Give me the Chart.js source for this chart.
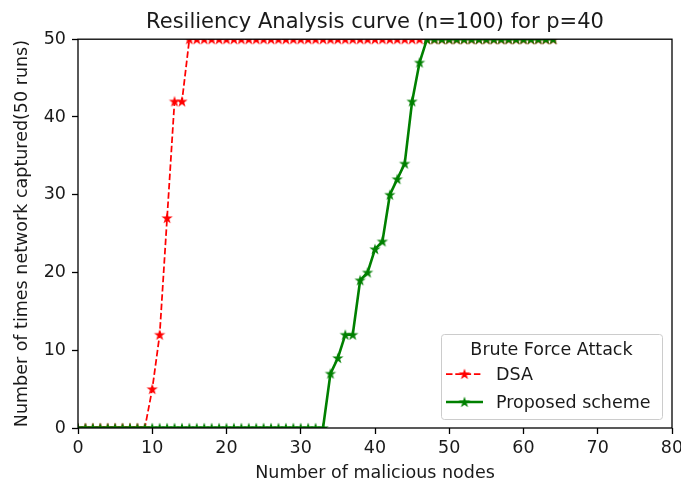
<!DOCTYPE html>
<html>
<head>
<meta charset="utf-8">
<script src="https://cdn.jsdelivr.net/npm/chart.js@4.4.1/dist/chart.umd.min.js"></script>
<style>
  html, body { margin: 0; padding: 0; background: #fff; }
  #wrap { width: 681px; height: 486px; }
</style>
</head>
<body>
<div id="wrap"><canvas id="resChart" width="681" height="486"></canvas></div>
<script>
// --- data ---
const maliciousNodes = Array.from({ length: 65 }, (_, i) => i); // 0 .. 64
const dsaCaptured = [
  0, 0, 0, 0, 0, 0, 0, 0, 0, 0,
  5, 12, 27, 42, 42, 50, 50, 50, 50, 50,
  50, 50, 50, 50, 50, 50, 50, 50, 50, 50,
  50, 50, 50, 50, 50, 50, 50, 50, 50, 50,
  50, 50, 50, 50, 50, 50, 50, 50, 50, 50,
  50, 50, 50, 50, 50, 50, 50, 50, 50, 50,
  50, 50, 50, 50, 50
];
const proposedCaptured = [
  0, 0, 0, 0, 0, 0, 0, 0, 0, 0,
  0, 0, 0, 0, 0, 0, 0, 0, 0, 0,
  0, 0, 0, 0, 0, 0, 0, 0, 0, 0,
  0, 0, 0, 0, 7, 9, 12, 12, 19, 20,
  23, 24, 30, 32, 34, 42, 47, 50, 50, 50,
  50, 50, 50, 50, 50, 50, 50, 50, 50, 50,
  50, 50, 50, 50, 50
];
const xTicks = [0, 10, 20, 30, 40, 50, 60, 70, 80];
const yTicks = [0, 10, 20, 30, 40, 50];

const FONT = '"DejaVu Sans", sans-serif';
const TEXT = '#1a1a1a';
const FS = 17.5;

// filled five-point star, like matplotlib's '*' marker
function makeStar(color) {
  const c = document.createElement('canvas');
  c.width = 14; c.height = 14;
  const g = c.getContext('2d');
  const cx = 7, cy = 7.4, R = 6, r = R * 0.382;
  g.beginPath();
  for (let i = 0; i < 10; i++) {
    const rad = i % 2 === 0 ? R : r;
    const a = -Math.PI / 2 + i * Math.PI / 5;
    const px = cx + rad * Math.cos(a), py = cy + rad * Math.sin(a);
    if (i === 0) g.moveTo(px, py); else g.lineTo(px, py);
  }
  g.closePath();
  g.fillStyle = color;
  g.fill();
  return c;
}
const redStar = makeStar('#ff0000');
const greenStar = makeStar('#008000');

// box around the plot area + the legend in the lower right corner
const frameAndLegend = {
  id: 'frameAndLegend',
  afterDatasetsDraw(chart) {
    const { ctx, chartArea: a } = chart;
    ctx.save();
    ctx.strokeStyle = '#000';
    ctx.lineWidth = 1.3;
    ctx.strokeRect(a.left, a.top, a.right - a.left, a.bottom - a.top);

    // legend box
    const w = 221, h = 85;
    const x0 = a.right - 10 - w, y0 = a.bottom - 9 - h;
    ctx.beginPath();
    ctx.roundRect(x0 + 0.5, y0 + 0.5, w, h, 3);
    ctx.fillStyle = 'rgba(255,255,255,0.8)';
    ctx.fill();
    ctx.lineWidth = 1;
    ctx.strokeStyle = '#cccccc';
    ctx.stroke();

    ctx.fillStyle = TEXT;
    ctx.font = FS + 'px ' + FONT;
    ctx.textBaseline = 'middle';
    ctx.textAlign = 'center';
    ctx.fillText('Brute Force Attack', x0 + w / 2, y0 + 16);

    ctx.textAlign = 'left';
    chart.data.datasets.forEach((ds, i) => {
      const yy = y0 + 40 + i * 28;
      ctx.save();
      ctx.strokeStyle = ds.borderColor;
      ctx.lineWidth = ds.borderWidth;
      ctx.setLineDash(ds.borderDash || []);
      ctx.beginPath();
      ctx.moveTo(x0 + 5, yy);
      ctx.lineTo(x0 + 42, yy);
      ctx.stroke();
      ctx.restore();
      const img = ds.pointStyle;
      ctx.drawImage(img, x0 + 23.5 - img.width / 2, yy - img.height / 2);
      ctx.fillStyle = TEXT;
      ctx.fillText(ds.label, x0 + 55, yy + 1);
    });
    ctx.restore();
  }
};

new Chart(document.getElementById('resChart'), {
  type: 'line',
  data: {
    labels: maliciousNodes,
    datasets: [
      {
        label: 'DSA',
        data: dsaCaptured.map((v, i) => ({ x: maliciousNodes[i], y: v })),
        borderColor: '#ff0000',
        borderWidth: 1.75,
        borderDash: [6.5, 2.8],
        pointStyle: redStar,
        pointRadius: 6,
        tension: 0,
        clip: 0,
        order: 1
      },
      {
        label: 'Proposed scheme',
        data: proposedCaptured.map((v, i) => ({ x: maliciousNodes[i], y: v })),
        borderColor: '#008000',
        borderWidth: 2.6,
        pointStyle: greenStar,
        pointRadius: 6,
        tension: 0,
        clip: 0,
        order: 0
      }
    ]
  },
  options: {
    responsive: false,
    animation: false,
    layout: { padding: { left: 0, right: 9, top: 0, bottom: 0 } },
    plugins: {
      legend: { display: false },
      tooltip: { enabled: false },
      title: {
        display: true,
        fullSize: false, // centred over the plot area only
        text: 'Resiliency Analysis curve (n=100) for p=40',
        color: TEXT,
        font: { family: FONT, size: 21, weight: 'normal' },
        padding: { top: 10, bottom: 4 }
      }
    },
    scales: {
      x: {
        type: 'linear',
        min: 0, max: 80,
        afterBuildTicks: s => { s.ticks = xTicks.map(v => ({ value: v })); },
        afterFit: s => { s.height = 58; s.paddingLeft = 0; s.paddingRight = 0; },
        border: { display: false },
        grid: { drawOnChartArea: false, tickLength: 6, color: '#000', tickWidth: 1.3 },
        ticks: { color: TEXT, font: { family: FONT, size: FS }, padding: 4, maxRotation: 0 },
        title: {
          display: true,
          text: 'Number of malicious nodes',
          color: TEXT,
          font: { family: FONT, size: FS },
          padding: { top: 0, bottom: 2 }
        }
      },
      y: {
        min: 0, max: 50,
        afterBuildTicks: s => { s.ticks = yTicks.map(v => ({ value: v })); },
        afterFit: s => { s.width = 78; s.paddingTop = 0; s.paddingBottom = 0; },
        border: { display: false },
        grid: { drawOnChartArea: false, tickLength: 6, color: '#000', tickWidth: 1.3 },
        ticks: { color: TEXT, font: { family: FONT, size: FS }, padding: 6 },
        title: {
          display: true,
          text: 'Number of times network captured(50 runs)',
          color: TEXT,
          font: { family: FONT, size: FS },
          padding: { top: 12, bottom: 0 }
        }
      }
    }
  },
  plugins: [frameAndLegend]
});
</script>
</body>
</html>
